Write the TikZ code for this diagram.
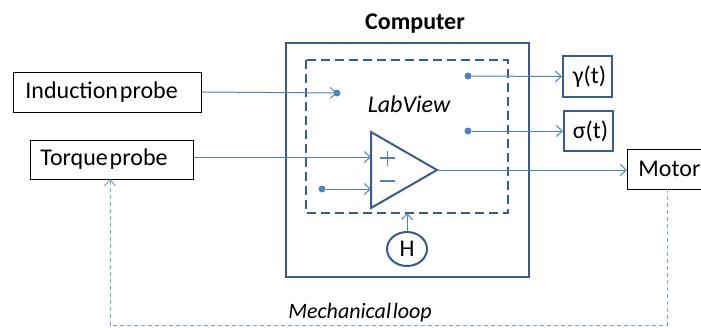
\documentclass[tikz,border=0pt]{standalone}
\usepackage{fontspec}
\setmainfont{Carlito}[WordSpace=0.35]
\usetikzlibrary{arrows.meta,shapes.geometric,calc}
\definecolor{boxblue}{HTML}{385D8A}
\definecolor{arrblue}{HTML}{4F81BD}
\definecolor{loopblue}{HTML}{7F9FD0}
\begin{document}
\begin{tikzpicture}[x=1pt,y=-1pt,
  every node/.style={font=\fontsize{24}{28}\selectfont},
  plainbox/.style={draw=black,line width=0.9pt,inner sep=0pt},
  bluebox/.style={draw=boxblue,line width=2pt,inner sep=0pt,minimum width=49pt,minimum height=41pt},
  sig/.style={draw=arrblue,line width=1pt,-{Straight Barb[length=6pt,width=11pt]}},
  dot/.style={circle,fill=arrblue,inner sep=0pt,minimum size=7pt},
  mech/.style={draw=loopblue,line width=1pt,dash pattern=on 4pt off 3pt}]
\useasboundingbox (0,0) rectangle (701,327);
% boxes
\node[plainbox,anchor=west,minimum height=40pt,text width=164pt,align=flush left,inner xsep=12pt] (induct) at (13,92) {Induction probe};
\node[plainbox,anchor=west,minimum height=39pt,text width=143pt,align=flush left,inner xsep=10pt] (torque) at (30,159.5) {Torque probe};
\node[bluebox] (gamma) at (587.5,76.5) {\hspace*{4pt}γ(t)};
\node[bluebox,minimum height=40pt] (sigma) at (588.5,131) {\hspace*{4pt}σ(t)};
\node[plainbox,anchor=west,minimum height=40pt,text width=75pt,align=flush left,inner xsep=11pt] (motor) at (627,169) {Motor};
% computer
\draw[boxblue,line width=2.2pt] (286,43) rectangle (529,277);
\node[font=\fontsize{24}{28}\selectfont\bfseries] (comp) at (415,24) {Computer};
\draw[boxblue,line width=2pt,dash pattern=on 9pt off 5pt] (306,60) rectangle (508,213);
\node[font=\fontsize{24}{28}\selectfont\itshape] (lab) at (409,104) {LabView};
% amplifier
\coordinate (tA) at (371,132);
\coordinate (tB) at (371,208);
\coordinate (tC) at (437,170);
\draw[boxblue,line width=2pt,line join=miter] (tA) -- (tB) -- (tC) -- cycle;
\coordinate (inP) at (371,157);
\coordinate (inM) at (371,189);
\draw[arrblue,line width=1.2pt] (380,158) -- (395,158) (387.5,150.5) -- (387.5,165.5);
\draw[arrblue,line width=1.2pt] (380,181) -- (395,181);
% dots
\node[dot] (d1) at (337,93) {};
\node[dot] (d2) at (468,76) {};
\node[dot] (d3) at (468,131) {};
\node[dot] (d4) at (322,189) {};
% H
\node[draw=boxblue,line width=2pt,ellipse,minimum width=40pt,minimum height=34pt,inner sep=0pt] (H) at (407,249) {H};
\coordinate (Hin) at (407,213);
% connectors
\draw[sig] (induct.east) -- (d1.center);
\draw[sig] (d2) -- (gamma.west);
\draw[sig] (d3) -- (sigma.west);
\draw[sig] (torque.east |- inP) -- (inP);
\draw[sig] (d4) -- (inM);
\draw[sig] (tC) -- (motor.west |- tC);
\draw[sig] (H.north) -- (Hin);
% mechanical loop
\coordinate (m1) at (667,189);
\coordinate (m2) at (667,325);
\coordinate (tq) at (110,179);
\draw[mech,-{Straight Barb[length=6pt,width=11pt]}] (m1) -- (m2) -| (tq);
\node[font=\fontsize{22}{26}\selectfont\itshape] (mlabel) at (360,313) {Mechanical loop};
\end{tikzpicture}
\end{document}
